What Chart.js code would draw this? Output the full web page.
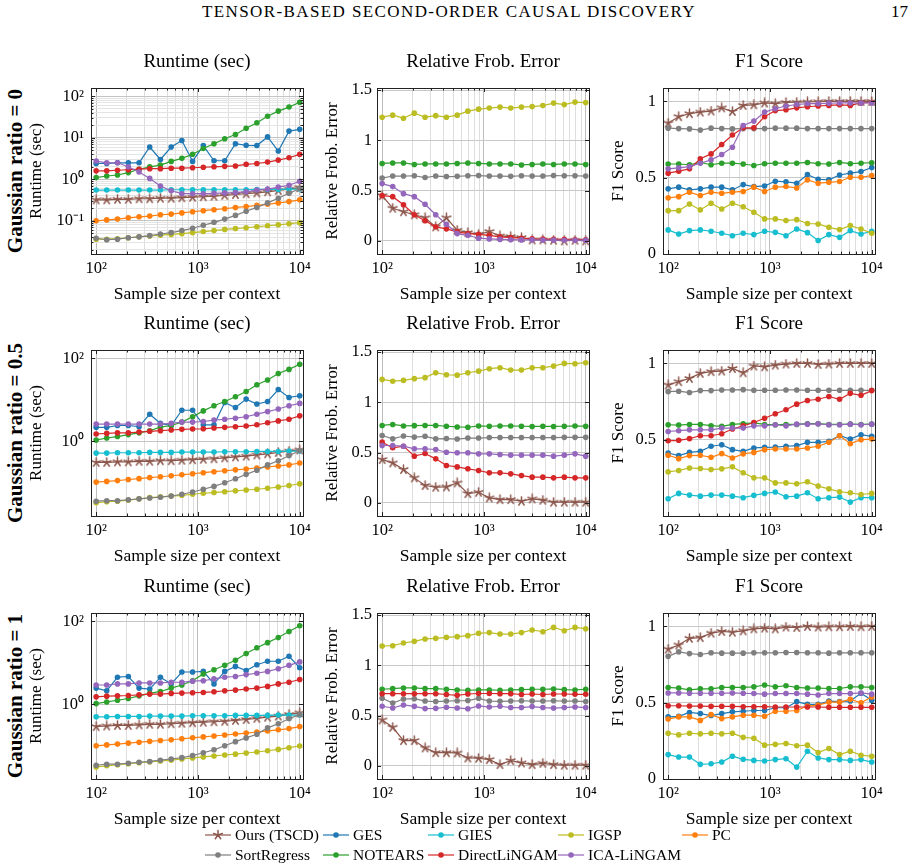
<!DOCTYPE html>
<html>
<head>
<meta charset="utf-8">
<script src="https://cdn.jsdelivr.net/npm/chart.js@4.4.1/dist/chart.umd.min.js"></script>
<style>
  body { margin: 0; width: 919px; height: 868px; position: relative; background: #fff; overflow: hidden;
         font-family: 'Liberation Serif', serif; color: #000; }
  canvas { position: absolute; }
  .hdr { position: absolute; top: 2px; left: 0; width: 898px; text-align: center; font-size: 17px;
         line-height: 20px; letter-spacing: 1.4px; }
  .pg { position: absolute; top: 2px; left: 891px; font-size: 17px; line-height: 20px; }
  .rowlab { position: absolute; left: 15px; transform: translate(-50%, -50%) rotate(-90deg);
            white-space: nowrap; font-weight: bold; font-size: 21px; }
  .leg { position: absolute; font-size: 15.5px; line-height: 18px; white-space: nowrap; }
  .leg svg { position: absolute; left: 0; top: 3px; }
  .leg span { position: absolute; left: 30px; top: 0; }
</style>
</head>
<body>
<div class="hdr">TENSOR-BASED SECOND-ORDER CAUSAL DISCOVERY</div>
<div class="pg">17</div>
<div id="root"></div>

<script>
// sample sizes (20 points, log spaced 10^2 .. 10^4)
const xs = [100, 127, 162, 207, 264, 336, 428, 546, 695, 886, 1129, 1438, 1833, 2336, 2976, 3793, 4833, 6158, 7848, 10000];

const methods = ['Ours (TSCD)', 'GES', 'GIES', 'IGSP', 'PC', 'SortRegress', 'NOTEARS', 'DirectLiNGAM', 'ICA-LiNGAM'];
const colors = ['#8c564b', '#1f77b4', '#17becf', '#bcbd22', '#ff7f0e', '#7f7f7f', '#2ca02c', '#d62728', '#9467bd'];
const frobMethods = ['Ours (TSCD)', 'IGSP', 'SortRegress', 'NOTEARS', 'DirectLiNGAM', 'ICA-LiNGAM'];

const rowNames = ['Gaussian ratio = 0', 'Gaussian ratio = 0.5', 'Gaussian ratio = 1'];
const panelTitles = ['Runtime (sec)', 'Relative Frob. Error', 'F1 Score'];
const yTitles = ['Runtime (sec)', 'Relative Frob. Error', 'F1 Score'];
const xTitle = 'Sample size per context';

// tick values
const xMajor = [100, 1000, 10000];
const xMinor = [200, 300, 400, 500, 600, 700, 800, 900, 2000, 3000, 4000, 5000, 6000, 7000, 8000, 9000];
const rtMajorFull = [0.1, 1, 10, 100];
const rtMinorFull = [0.02, 0.03, 0.04, 0.05, 0.06, 0.07, 0.08, 0.09, 0.2, 0.3, 0.4, 0.5, 0.6, 0.7, 0.8, 0.9,
                     2, 3, 4, 5, 6, 7, 8, 9, 20, 30, 40, 50, 60, 70, 80, 90];
const rtMajorSparse = [1, 100];
const frobTicks = [0, 0.5, 1, 1.5];
const f1Ticks = [0, 0.5, 1];
const f1TicksNoZero = [0.5, 1];
const powLabels = { 0.1: '10\u207B\u00B9', 1: '10\u2070', 10: '10\u00B9', 100: '10\u00B2', 1000: '10\u00B3', 10000: '10\u2074' };

// ---- Gaussian ratio = 0 ----
const runtime0 = {
  'Ours (TSCD)': [0.32, 0.32, 0.33, 0.33, 0.34, 0.34, 0.35, 0.35, 0.36, 0.37, 0.38, 0.39, 0.41, 0.43, 0.45, 0.47, 0.5, 0.54, 0.58, 0.63],
  'GES': [2.4, 2.4, 2.5, 2.5, 2.5, 6.0, 3.0, 6.0, 8.6, 2.7, 6.5, 2.8, 2.8, 7.2, 6.6, 6.5, 10.5, 4.8, 14.5, 16],
  'GIES': [0.55, 0.55, 0.55, 0.55, 0.55, 0.55, 0.55, 0.56, 0.56, 0.56, 0.56, 0.56, 0.56, 0.56, 0.56, 0.57, 0.57, 0.57, 0.58, 0.58],
  'IGSP': [0.036, 0.036, 0.037, 0.039, 0.041, 0.043, 0.045, 0.047, 0.049, 0.052, 0.055, 0.058, 0.062, 0.065, 0.068, 0.072, 0.076, 0.08, 0.085, 0.09],
  'PC': [0.1, 0.105, 0.11, 0.118, 0.125, 0.13, 0.14, 0.145, 0.155, 0.165, 0.175, 0.185, 0.195, 0.21, 0.22, 0.235, 0.25, 0.27, 0.29, 0.32],
  'SortRegress': [0.038, 0.035, 0.036, 0.039, 0.041, 0.044, 0.048, 0.052, 0.058, 0.066, 0.078, 0.092, 0.11, 0.135, 0.17, 0.21, 0.27, 0.35, 0.46, 0.6],
  'NOTEARS': [1.1, 1.2, 1.27, 1.45, 1.75, 2.0, 2.2, 2.7, 3.2, 4.0, 5.5, 7.2, 9.5, 12, 17, 23, 33, 44, 55, 72],
  'DirectLiNGAM': [1.6, 1.6, 1.65, 1.7, 1.75, 1.8, 1.8, 1.85, 1.85, 1.9, 1.95, 2.0, 2.05, 2.1, 2.3, 2.4, 2.6, 2.9, 3.3, 4.0],
  'ICA-LiNGAM': [2.75, 2.5, 2.5, 2.0, 1.5, 1.05, 0.69, 0.53, 0.45, 0.45, 0.45, 0.46, 0.47, 0.48, 0.5, 0.55, 0.58, 0.65, 0.72, 0.9]
};
const frob0 = {
  'Ours (TSCD)': [0.45, 0.325, 0.29, 0.26, 0.23, 0.14, 0.23, 0.106, 0.083, 0.066, 0.093, 0.05, 0.043, 0.033, 0.01, 0.01, 0.007, 0, 0.007, 0],
  'IGSP': [1.23, 1.25, 1.22, 1.27, 1.23, 1.245, 1.23, 1.25, 1.29, 1.31, 1.32, 1.33, 1.32, 1.33, 1.335, 1.345, 1.37, 1.355, 1.38, 1.375],
  'SortRegress': [0.625, 0.645, 0.645, 0.648, 0.63, 0.645, 0.64, 0.642, 0.648, 0.65, 0.645, 0.645, 0.642, 0.648, 0.645, 0.645, 0.65, 0.648, 0.648, 0.645],
  'NOTEARS': [0.77, 0.775, 0.775, 0.76, 0.765, 0.765, 0.765, 0.77, 0.775, 0.77, 0.765, 0.765, 0.765, 0.755, 0.76, 0.765, 0.76, 0.765, 0.765, 0.76],
  'DirectLiNGAM': [0.45, 0.44, 0.36, 0.26, 0.2, 0.14, 0.12, 0.09, 0.073, 0.066, 0.056, 0.04, 0.033, 0.027, 0.02, 0.018, 0.015, 0.015, 0.012, 0.01],
  'ICA-LiNGAM': [0.57, 0.54, 0.47, 0.44, 0.365, 0.26, 0.165, 0.073, 0.056, 0.027, 0.02, 0.015, 0.012, 0.01, 0.01, 0.008, 0.008, 0.007, 0.007, 0.006]
};
const f1_0 = {
  'Ours (TSCD)': [0.858, 0.9, 0.92, 0.93, 0.937, 0.958, 0.934, 0.974, 0.978, 0.99, 0.985, 0.993, 0.995, 0.997, 0.998, 1, 1, 1, 1, 1],
  'GES': [0.427, 0.438, 0.42, 0.427, 0.438, 0.438, 0.42, 0.455, 0.442, 0.446, 0.477, 0.473, 0.464, 0.52, 0.49, 0.486, 0.518, 0.53, 0.54, 0.567],
  'GIES': [0.158, 0.131, 0.153, 0.158, 0.149, 0.136, 0.12, 0.136, 0.127, 0.149, 0.142, 0.12, 0.164, 0.14, 0.088, 0.127, 0.109, 0.153, 0.131, 0.149],
  'IGSP': [0.284, 0.284, 0.328, 0.289, 0.333, 0.295, 0.333, 0.31, 0.274, 0.23, 0.23, 0.219, 0.225, 0.2, 0.197, 0.175, 0.16, 0.186, 0.164, 0.136],
  'PC': [0.368, 0.376, 0.405, 0.383, 0.405, 0.398, 0.405, 0.41, 0.438, 0.41, 0.438, 0.442, 0.433, 0.486, 0.464, 0.47, 0.475, 0.503, 0.503, 0.514],
  'SortRegress': [0.825, 0.822, 0.82, 0.812, 0.825, 0.822, 0.82, 0.822, 0.822, 0.822, 0.825, 0.825, 0.825, 0.822, 0.822, 0.822, 0.822, 0.822, 0.822, 0.822],
  'NOTEARS': [0.59, 0.59, 0.585, 0.6, 0.585, 0.595, 0.595, 0.59, 0.58, 0.592, 0.595, 0.595, 0.595, 0.6, 0.592, 0.59, 0.6, 0.592, 0.595, 0.598],
  'DirectLiNGAM': [0.53, 0.543, 0.558, 0.624, 0.656, 0.718, 0.78, 0.827, 0.827, 0.9, 0.94, 0.945, 0.958, 0.965, 0.97, 0.974, 0.978, 0.974, 0.99, 0.993],
  'ICA-LiNGAM': [0.558, 0.565, 0.573, 0.595, 0.617, 0.652, 0.7, 0.842, 0.871, 0.93, 0.952, 0.97, 0.98, 0.985, 0.985, 0.988, 0.99, 0.99, 0.99, 0.99]
};

// ---- Gaussian ratio = 0.5 ----
const runtime1 = {
  'Ours (TSCD)': [0.31, 0.31, 0.32, 0.32, 0.33, 0.33, 0.34, 0.34, 0.35, 0.36, 0.37, 0.38, 0.4, 0.42, 0.44, 0.47, 0.5, 0.54, 0.58, 0.62],
  'GES': [2.17, 2.17, 2.4, 2.4, 2.25, 4.5, 2.7, 2.4, 5.6, 5.6, 2.5, 2.5, 8.6, 6.5, 10.4, 7.9, 9.1, 17.7, 11.4, 12.5],
  'GIES': [0.52, 0.52, 0.53, 0.53, 0.53, 0.54, 0.54, 0.54, 0.55, 0.55, 0.55, 0.55, 0.56, 0.56, 0.56, 0.57, 0.57, 0.57, 0.58, 0.58],
  'IGSP': [0.033, 0.035, 0.036, 0.038, 0.041, 0.044, 0.046, 0.048, 0.05, 0.053, 0.056, 0.058, 0.061, 0.064, 0.067, 0.07, 0.074, 0.079, 0.086, 0.095],
  'PC': [0.104, 0.108, 0.113, 0.12, 0.126, 0.133, 0.14, 0.148, 0.156, 0.165, 0.175, 0.185, 0.195, 0.205, 0.215, 0.228, 0.24, 0.255, 0.27, 0.3],
  'SortRegress': [0.036, 0.037, 0.037, 0.039, 0.041, 0.043, 0.045, 0.048, 0.053, 0.06, 0.07, 0.082, 0.1, 0.125, 0.16, 0.2, 0.27, 0.34, 0.45, 0.6],
  'NOTEARS': [1.07, 1.2, 1.3, 1.45, 1.6, 1.8, 2.2, 2.4, 2.9, 3.9, 5.4, 7.2, 9.1, 11.8, 15.8, 23, 30, 43, 54, 72],
  'DirectLiNGAM': [1.5, 1.55, 1.6, 1.6, 1.67, 1.74, 1.8, 1.87, 1.94, 1.98, 2.0, 2.1, 2.17, 2.25, 2.33, 2.5, 2.8, 3.1, 3.4, 4.1],
  'ICA-LiNGAM': [2.6, 2.6, 2.6, 2.6, 2.6, 2.6, 2.6, 2.7, 2.9, 2.9, 3.0, 3.25, 3.4, 3.6, 3.9, 4.5, 5.2, 6.0, 7.2, 8.2]
};
const frob1 = {
  'Ours (TSCD)': [0.431, 0.398, 0.332, 0.249, 0.173, 0.156, 0.159, 0.199, 0.093, 0.106, 0.05, 0.033, 0.033, 0.017, 0.04, 0.027, 0.007, 0.007, 0.007, 0.007],
  'IGSP': [1.228, 1.21, 1.218, 1.235, 1.245, 1.294, 1.274, 1.27, 1.294, 1.31, 1.334, 1.344, 1.32, 1.32, 1.344, 1.344, 1.36, 1.387, 1.384, 1.394],
  'SortRegress': [0.67, 0.637, 0.665, 0.654, 0.662, 0.637, 0.64, 0.635, 0.645, 0.645, 0.65, 0.65, 0.65, 0.65, 0.65, 0.65, 0.65, 0.652, 0.652, 0.652],
  'NOTEARS': [0.77, 0.78, 0.765, 0.768, 0.77, 0.77, 0.762, 0.755, 0.752, 0.765, 0.762, 0.765, 0.765, 0.762, 0.76, 0.762, 0.76, 0.762, 0.765, 0.762],
  'DirectLiNGAM': [0.604, 0.548, 0.564, 0.465, 0.491, 0.438, 0.372, 0.358, 0.339, 0.322, 0.299, 0.299, 0.289, 0.272, 0.256, 0.256, 0.249, 0.256, 0.249, 0.249],
  'ICA-LiNGAM': [0.571, 0.571, 0.564, 0.538, 0.538, 0.531, 0.504, 0.498, 0.498, 0.488, 0.488, 0.481, 0.475, 0.475, 0.475, 0.475, 0.465, 0.475, 0.488, 0.465]
};
const f1_1 = {
  'Ours (TSCD)': [0.859, 0.88, 0.902, 0.935, 0.946, 0.95, 0.967, 0.939, 0.983, 0.978, 0.989, 0.996, 1, 1, 0.993, 0.996, 1, 1, 1, 1],
  'GES': [0.413, 0.396, 0.417, 0.424, 0.457, 0.467, 0.435, 0.424, 0.446, 0.45, 0.452, 0.457, 0.461, 0.483, 0.483, 0.489, 0.526, 0.504, 0.533, 0.522],
  'GIES': [0.113, 0.148, 0.137, 0.13, 0.137, 0.137, 0.13, 0.12, 0.135, 0.148, 0.157, 0.126, 0.13, 0.152, 0.113, 0.12, 0.124, 0.091, 0.12, 0.12],
  'IGSP': [0.289, 0.298, 0.315, 0.311, 0.304, 0.309, 0.322, 0.283, 0.25, 0.25, 0.217, 0.217, 0.211, 0.224, 0.196, 0.178, 0.159, 0.152, 0.141, 0.148],
  'PC': [0.398, 0.376, 0.396, 0.398, 0.385, 0.409, 0.38, 0.407, 0.417, 0.435, 0.439, 0.439, 0.439, 0.446, 0.457, 0.483, 0.526, 0.474, 0.5, 0.504],
  'SortRegress': [0.815, 0.818, 0.809, 0.822, 0.822, 0.826, 0.826, 0.828, 0.824, 0.824, 0.824, 0.826, 0.826, 0.824, 0.824, 0.824, 0.824, 0.824, 0.824, 0.824],
  'NOTEARS': [0.598, 0.596, 0.6, 0.6, 0.592, 0.588, 0.6, 0.605, 0.61, 0.6, 0.598, 0.6, 0.6, 0.605, 0.605, 0.6, 0.6, 0.602, 0.6, 0.602],
  'DirectLiNGAM': [0.493, 0.496, 0.507, 0.526, 0.526, 0.539, 0.57, 0.591, 0.613, 0.641, 0.67, 0.696, 0.733, 0.757, 0.765, 0.783, 0.765, 0.804, 0.791, 0.822],
  'ICA-LiNGAM': [0.554, 0.559, 0.565, 0.565, 0.565, 0.576, 0.576, 0.576, 0.591, 0.591, 0.598, 0.591, 0.602, 0.602, 0.604, 0.598, 0.598, 0.602, 0.598, 0.602]
};

// ---- Gaussian ratio = 1 ----
const runtime2 = {
  'Ours (TSCD)': [0.29, 0.3, 0.31, 0.31, 0.32, 0.33, 0.33, 0.34, 0.35, 0.36, 0.37, 0.38, 0.39, 0.41, 0.43, 0.46, 0.49, 0.52, 0.57, 0.62],
  'GES': [2.46, 2.12, 4.5, 4.67, 2.46, 2.33, 4.5, 3.1, 6.0, 6.0, 6.2, 3.1, 6.2, 8.2, 6.5, 9.0, 10.9, 10.9, 14.4, 7.6],
  'GIES': [0.5, 0.5, 0.51, 0.51, 0.51, 0.52, 0.52, 0.52, 0.52, 0.53, 0.53, 0.53, 0.53, 0.54, 0.54, 0.54, 0.54, 0.55, 0.55, 0.55],
  'IGSP': [0.031, 0.033, 0.035, 0.037, 0.039, 0.041, 0.043, 0.045, 0.048, 0.051, 0.054, 0.057, 0.06, 0.063, 0.067, 0.071, 0.076, 0.082, 0.09, 0.099],
  'PC': [0.1, 0.105, 0.11, 0.116, 0.122, 0.128, 0.134, 0.14, 0.148, 0.156, 0.164, 0.172, 0.182, 0.192, 0.203, 0.215, 0.228, 0.243, 0.26, 0.29],
  'SortRegress': [0.034, 0.036, 0.036, 0.038, 0.04, 0.042, 0.045, 0.048, 0.052, 0.058, 0.068, 0.08, 0.1, 0.126, 0.155, 0.19, 0.27, 0.34, 0.45, 0.57],
  'NOTEARS': [1.04, 1.14, 1.25, 1.38, 1.6, 1.83, 2.04, 2.46, 2.92, 3.7, 5.4, 6.8, 8.7, 11.5, 16.7, 23, 30.6, 40.5, 57, 78],
  'DirectLiNGAM': [1.51, 1.57, 1.6, 1.63, 1.69, 1.76, 1.76, 1.83, 1.86, 1.9, 1.93, 2.0, 2.12, 2.2, 2.33, 2.46, 2.7, 3.1, 3.4, 3.95],
  'ICA-LiNGAM': [2.92, 2.92, 3.1, 3.1, 3.27, 3.27, 3.27, 3.4, 3.4, 3.6, 3.7, 4.1, 4.5, 4.67, 5.2, 5.6, 6.2, 7.2, 8.7, 10.5]
};
const frob2 = {
  'Ours (TSCD)': [0.457, 0.384, 0.252, 0.252, 0.179, 0.132, 0.132, 0.129, 0.079, 0.076, 0.063, 0.013, 0.053, 0.03, 0.013, 0.026, 0.013, 0.007, 0.007, 0.007],
  'IGSP': [1.192, 1.195, 1.222, 1.238, 1.262, 1.268, 1.278, 1.285, 1.295, 1.318, 1.325, 1.311, 1.311, 1.325, 1.351, 1.334, 1.377, 1.344, 1.377, 1.364],
  'SortRegress': [0.672, 0.625, 0.665, 0.668, 0.645, 0.64, 0.645, 0.648, 0.65, 0.672, 0.645, 0.642, 0.645, 0.648, 0.645, 0.645, 0.648, 0.645, 0.645, 0.64],
  'NOTEARS': [0.762, 0.768, 0.775, 0.775, 0.768, 0.768, 0.762, 0.755, 0.752, 0.755, 0.755, 0.752, 0.755, 0.758, 0.762, 0.762, 0.765, 0.758, 0.755, 0.762],
  'DirectLiNGAM': [0.718, 0.718, 0.718, 0.718, 0.718, 0.718, 0.71, 0.702, 0.715, 0.72, 0.72, 0.718, 0.718, 0.71, 0.715, 0.71, 0.715, 0.715, 0.712, 0.712],
  'ICA-LiNGAM': [0.593, 0.576, 0.606, 0.592, 0.57, 0.572, 0.583, 0.576, 0.568, 0.596, 0.585, 0.593, 0.58, 0.58, 0.59, 0.58, 0.575, 0.58, 0.586, 0.58]
};
const f1_2 = {
  'Ours (TSCD)': [0.851, 0.878, 0.922, 0.927, 0.956, 0.967, 0.962, 0.971, 0.984, 0.989, 0.984, 0.996, 0.993, 1, 0.996, 0.998, 0.998, 1, 0.998, 1],
  'GES': [0.407, 0.411, 0.436, 0.429, 0.416, 0.429, 0.44, 0.444, 0.449, 0.449, 0.467, 0.467, 0.507, 0.489, 0.489, 0.511, 0.507, 0.511, 0.562, 0.516],
  'GIES': [0.16, 0.144, 0.144, 0.096, 0.1, 0.111, 0.149, 0.129, 0.122, 0.118, 0.127, 0.133, 0.078, 0.182, 0.138, 0.127, 0.127, 0.122, 0.127, 0.111],
  'IGSP': [0.3, 0.289, 0.3, 0.296, 0.3, 0.296, 0.3, 0.273, 0.267, 0.222, 0.227, 0.233, 0.218, 0.222, 0.173, 0.2, 0.16, 0.182, 0.156, 0.149],
  'PC': [0.393, 0.407, 0.407, 0.384, 0.422, 0.396, 0.407, 0.418, 0.418, 0.411, 0.444, 0.444, 0.449, 0.478, 0.484, 0.504, 0.504, 0.522, 0.5, 0.538],
  'SortRegress': [0.804, 0.833, 0.822, 0.816, 0.827, 0.825, 0.825, 0.825, 0.827, 0.827, 0.827, 0.829, 0.829, 0.827, 0.827, 0.825, 0.827, 0.827, 0.827, 0.827],
  'NOTEARS': [0.6, 0.596, 0.584, 0.591, 0.591, 0.6, 0.6, 0.6, 0.604, 0.616, 0.604, 0.611, 0.6, 0.596, 0.596, 0.593, 0.593, 0.604, 0.604, 0.6],
  'DirectLiNGAM': [0.48, 0.48, 0.478, 0.478, 0.476, 0.476, 0.476, 0.474, 0.474, 0.474, 0.472, 0.472, 0.472, 0.472, 0.472, 0.47, 0.47, 0.47, 0.47, 0.47],
  'ICA-LiNGAM': [0.564, 0.564, 0.562, 0.562, 0.562, 0.562, 0.564, 0.562, 0.56, 0.556, 0.56, 0.56, 0.56, 0.556, 0.551, 0.56, 0.56, 0.56, 0.564, 0.556]
};

// ---------------- layout ----------------
const plotLeft = [91, 377, 663];
const plotTop = [88, 350, 613];
const plotW = 212, plotH = 166;
const padL = 88, padT = 50, padR = 16, padB = 52;
const yTitlePad = [23.5, 33, 33];
const yTickPad = [7, 5, 7];

Chart.defaults.font.family = "'Liberation Serif', serif";
Chart.defaults.color = '#000';

function makeStar(color) {
  var c = document.createElement('canvas');
  c.width = 11; c.height = 11;
  var g = c.getContext('2d');
  g.strokeStyle = color; g.lineWidth = 1.5; g.lineCap = 'round';
  g.beginPath();
  for (var k = 0; k < 5; k++) {
    var a = -Math.PI / 2 + k * 2 * Math.PI / 5;
    g.moveTo(5.5, 5.5);
    g.lineTo(5.5 + 4.6 * Math.cos(a), 5.5 + 4.6 * Math.sin(a));
  }
  g.stroke();
  return c;
}
const starMark = makeStar(colors[0]);

// frame + inward tick marks, like the pgfplots box axis
const framePlugin = {
  id: 'frame',
  afterDraw: function (chart) {
    var a = chart.chartArea, ctx = chart.ctx;
    var xs_ = chart.scales.x, ys_ = chart.scales.y;
    ctx.save();
    ctx.strokeStyle = '#222';
    ctx.lineWidth = 1;
    ctx.beginPath();
    xs_.ticks.forEach(function (t) {
      var px = Math.round(xs_.getPixelForValue(t.value)) + 0.5;
      var len = xMajor.indexOf(t.value) >= 0 ? 4 : 2.5;
      ctx.moveTo(px, a.bottom); ctx.lineTo(px, a.bottom - len);
      ctx.moveTo(px, a.top); ctx.lineTo(px, a.top + len);
    });
    ys_.ticks.forEach(function (t) {
      var py = Math.round(ys_.getPixelForValue(t.value)) + 0.5;
      var len = t.major ? 4 : 2.5;
      ctx.moveTo(a.left, py); ctx.lineTo(a.left + len, py);
      ctx.moveTo(a.right, py); ctx.lineTo(a.right - len, py);
    });
    ctx.stroke();
    ctx.strokeRect(Math.round(a.left) + 0.5, Math.round(a.top) + 0.5,
                   Math.round(a.right - a.left), Math.round(a.bottom - a.top));
    ctx.restore();
  }
};

function buildDatasets(panel, list) {
  var ds = [];
  list.forEach(function (m) {
    var idx = methods.indexOf(m);
    var vals = panel[m];
    ds.push({
      label: m,
      data: xs.map(function (x, i) { return { x: x, y: vals[i] }; }),
      borderColor: colors[idx],
      backgroundColor: colors[idx],
      borderWidth: 1.2,
      pointStyle: idx === 0 ? starMark : 'circle',
      pointRadius: 2.8,
      pointHoverRadius: 2.8,
      pointBorderWidth: 0,
      tension: 0
    });
  });
  // pgfplots draws later series on top; Chart.js draws the first dataset last
  return ds.reverse();
}

function yScaleFor(kind, row, col) {
  var base = {
    position: 'left',
    afterFit: function (s) { s.width = padL; },
    title: { display: true, text: yTitles[col], font: { size: 17 }, padding: { top: yTitlePad[col], bottom: 0 } },
    border: { display: false },
    ticks: { font: { size: 16.5 }, padding: yTickPad[col], autoSkip: false }
  };
  if (kind === 'runtime') {
    var major = row === 0 ? rtMajorFull : rtMajorSparse;
    var minor = row === 0 ? rtMinorFull : [];
    base.type = 'logarithmic';
    base.min = Math.pow(10, -1.8);
    base.max = Math.pow(10, 2.2);
    base.afterBuildTicks = function (s) {
      s.ticks = major.map(function (v) { return { value: v, major: true }; })
        .concat(minor.map(function (v) { return { value: v, major: false }; }));
    };
    base.ticks.callback = function (v) { return powLabels[v] || ''; };
    base.grid = {
      drawTicks: false,
      color: function (c) { return major.indexOf(c.tick.value) >= 0 ? '#c4c4c4' : '#e4e4e4'; }
    };
  } else {
    var tv = kind === 'frob' ? frobTicks : (row === 1 ? f1TicksNoZero : f1Ticks);
    base.type = 'linear';
    base.min = kind === 'frob' ? -0.13 : 0;
    base.max = kind === 'frob' ? 1.52 : 1.088;
    base.afterBuildTicks = function (s) {
      s.ticks = tv.map(function (v) { return { value: v, major: true }; });
    };
    base.ticks.callback = function (v) { return String(v); };
    base.grid = { drawTicks: false, color: '#c8c8c8' };
  }
  return base;
}

function xScale() {
  return {
    type: 'logarithmic',
    position: 'bottom',
    min: 89,
    max: 10770,
    afterFit: function (s) { s.height = padB; },
    afterBuildTicks: function (s) {
      s.ticks = xMajor.map(function (v) { return { value: v, major: true }; })
        .concat(xMinor.map(function (v) { return { value: v, major: false }; }));
    },
    title: { display: true, text: xTitle, font: { size: 17.5 }, padding: { top: 0, bottom: 1 } },
    border: { display: false },
    grid: {
      drawTicks: false,
      color: function (c) { return xMajor.indexOf(c.tick.value) >= 0 ? '#bdbdbd' : '#dedede'; }
    },
    ticks: {
      font: { size: 16.5 }, padding: 5, autoSkip: false, maxRotation: 0,
      callback: function (v) { return powLabels[v] || ''; }
    }
  };
}

const panels = [
  [runtime0, frob0, f1_0],
  [runtime1, frob1, f1_1],
  [runtime2, frob2, f1_2]
];
const kinds = ['runtime', 'frob', 'f1'];

const root = document.getElementById('root');

panels.forEach(function (rowPanels, r) {
  var lab = document.createElement('div');
  lab.className = 'rowlab';
  lab.textContent = rowNames[r];
  lab.style.top = (plotTop[r] + plotH / 2) + 'px';
  root.appendChild(lab);

  rowPanels.forEach(function (panel, c) {
    var cv = document.createElement('canvas');
    var w = padL + plotW + padR, h = padT + plotH + padB;
    cv.width = w; cv.height = h;
    cv.style.width = w + 'px'; cv.style.height = h + 'px';
    cv.style.left = (plotLeft[c] - padL) + 'px';
    cv.style.top = (plotTop[r] - padT) + 'px';
    root.appendChild(cv);

    var kind = kinds[c];
    new Chart(cv, {
      type: 'line',
      data: { datasets: buildDatasets(panel, kind === 'frob' ? frobMethods : methods) },
      options: {
        responsive: false,
        animation: false,
        layout: { padding: { left: 0, top: 0, right: padR, bottom: 0 } },
        plugins: {
          legend: { display: false },
          tooltip: { enabled: false },
          title: {
            display: true, text: panelTitles[c], fullSize: false,
            font: { size: 19, weight: 'normal' },
            padding: { top: 12.6, bottom: 14.6 }
          }
        },
        scales: { x: xScale(), y: yScaleFor(kind, r, c) }
      },
      plugins: [framePlugin]
    });
  });
});

// shared legend (two rows, five columns)
const legCols = [205, 323, 428, 558, 682];
const legRows = [826, 846];
methods.forEach(function (m, i) {
  var d = document.createElement('div');
  d.className = 'leg';
  d.style.left = legCols[i % 5] + 'px';
  d.style.top = legRows[Math.floor(i / 5)] + 'px';
  var col = colors[i];
  var mark = i === 0
    ? (function () {
        var p = '';
        for (var k = 0; k < 5; k++) {
          var a = -Math.PI / 2 + k * 2 * Math.PI / 5;
          p += 'M13 6L' + (13 + 4.6 * Math.cos(a)).toFixed(2) + ' ' + (6 + 4.6 * Math.sin(a)).toFixed(2);
        }
        return '<path d="' + p + '" stroke="' + col + '" stroke-width="1.5" stroke-linecap="round"/>';
      })()
    : '<circle cx="13" cy="6" r="2.8" fill="' + col + '"/>';
  d.innerHTML = '<svg width="26" height="12"><line x1="0" y1="6" x2="26" y2="6" stroke="' + col +
    '" stroke-width="1.2"/>' + mark + '</svg><span>' + m + '</span>';
  root.appendChild(d);
});
</script>
</body>
</html>
